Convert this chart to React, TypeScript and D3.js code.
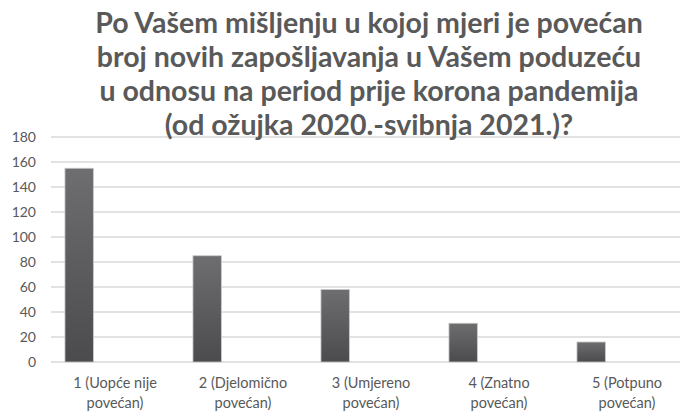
import React, { useRef, useEffect } from "react";
import * as d3 from "d3";

const categories = [
  ["1  (Uopće nije", "povećan)"],
  ["2 (Djelomično", "povećan)"],
  ["3 (Umjereno", "povećan)"],
  ["4 (Znatno", "povećan)"],
  ["5 (Potpuno", "povećan)"],
];
const values = [155, 85, 58, 31, 16];
const yTicks = [0, 20, 40, 60, 80, 100, 120, 140, 160, 180];
const titleLines = [
  "Po Vašem mišljenju u kojoj mjeri je povećan",
  "broj novih zapošljavanja u Vašem poduzeću",
  "u odnosu na period prije korona pandemija",
  "(od ožujka 2020.-svibnja 2021.)?",
];

export default function App() {
  const ref = useRef<SVGSVGElement>(null);

  useEffect(() => {
    if (!ref.current) return;
    const svg = d3.select(ref.current);
    svg.selectAll("*").remove();
    const width = 681;
    const height = 412;
    const margin = { top: 137, right: 1, bottom: 50, left: 51 };
    const innerW = width - margin.left - margin.right;
    const innerH = height - margin.top - margin.bottom;
    const font = "Lato, 'Open Sans', sans-serif";

    const defs = svg.append("defs");
    const grad = defs
      .append("linearGradient")
      .attr("id", "barGrad")
      .attr("x1", 0).attr("y1", 0).attr("x2", 0).attr("y2", 1);
    grad.append("stop").attr("offset", "0%").attr("stop-color", "#6e6e70");
    grad.append("stop").attr("offset", "100%").attr("stop-color", "#4b4b4d");

    // category bands run a little past the right edge of the plot
    const x = d3
      .scaleBand<number>()
      .domain(values.map((_, i) => i))
      .range([0, 640])
      .padding(0);
    const y = d3.scaleLinear().domain([0, 180]).range([innerH, 0]);

    const g = svg
      .append("g")
      .attr("transform", `translate(${margin.left},${margin.top})`);

    g.selectAll("line.grid")
      .data(yTicks)
      .enter()
      .append("line")
      .attr("x1", 0)
      .attr("x2", innerW)
      .attr("y1", (d) => y(d))
      .attr("y2", (d) => y(d))
      .attr("stroke", "#d9d9d9")
      .attr("stroke-width", 1.5);

    g.selectAll("text.ytick")
      .data(yTicks)
      .enter()
      .append("text")
      .attr("x", -15)
      .attr("y", (d) => y(d))
      .attr("dy", "0.35em")
      .attr("text-anchor", "end")
      .attr("font-family", font)
      .attr("font-size", 14)
      .attr("fill", "#595959")
      .text((d) => d);

    const step = x.step();
    g.selectAll("rect.bar")
      .data(values)
      .enter()
      .append("rect")
      .attr("x", (_, i) => (x(i) as number) + step * 0.109)
      .attr("width", step * 0.222)
      .attr("y", (d) => y(d))
      .attr("height", (d) => y(0) - y(d))
      .attr("fill", "url(#barGrad)")
      .attr("stroke", "#c8c8c8")
      .attr("stroke-width", 0.8);

    const labels = g
      .selectAll("text.cat")
      .data(categories)
      .enter()
      .append("text")
      .attr("text-anchor", "middle")
      .attr("font-family", font)
      .attr("font-size", 14.5)
      .attr("fill", "#595959");
    labels.each(function (d, i) {
      const t = d3.select(this);
      d.forEach((line, j) => {
        t.append("tspan")
          .attr("x", (x(i) as number) + step / 2)
          .attr("y", innerH + 26 + j * 20)
          .text(line);
      });
    });

    svg
      .append("g")
      .selectAll("text")
      .data(titleLines)
      .enter()
      .append("text")
      .attr("x", 369)
      .attr("y", (_, i) => 33 + i * 34)
      .attr("text-anchor", "middle")
      .attr("font-family", font)
      .attr("font-weight", "bold")
      .attr("font-size", 28.5)
      .attr("fill", "#595959")
      .text((d) => d);
  }, []);

  return (
    <svg
      ref={ref}
      width={681}
      height={412}
      style={{ position: "absolute", left: 0, top: 0, background: "#fff" }}
    />
  );
}
